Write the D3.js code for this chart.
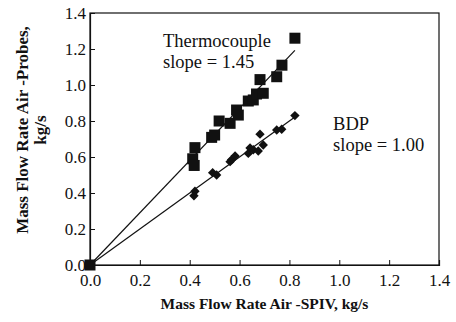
<!DOCTYPE html>
<html>
<head>
<meta charset="utf-8">
<script src="https://cdn.jsdelivr.net/npm/d3@7"></script>
<style>
  body { margin: 0; background: #fff; }
  svg text { font-family: "Liberation Serif", "Times New Roman", Times, "DejaVu Serif", serif; fill: #111; }
</style>
</head>
<body>
<div id="chart"></div>
<script>
// Thermocouple probe vs SPIV (kg/s)
const thermoX = [0, 0.412, 0.418, 0.421, 0.488, 0.500, 0.518, 0.562, 0.588, 0.595, 0.635, 0.655, 0.668, 0.682, 0.695, 0.749, 0.770, 0.822];
const thermoY = [0, 0.590, 0.553, 0.652, 0.709, 0.722, 0.800, 0.787, 0.861, 0.833, 0.911, 0.917, 0.950, 1.030, 0.954, 1.046, 1.110, 1.260];
// BDP probe vs SPIV (kg/s)
const bdpX = [0, 0.417, 0.421, 0.492, 0.508, 0.562, 0.568, 0.582, 0.635, 0.642, 0.655, 0.675, 0.682, 0.695, 0.749, 0.769, 0.822];
const bdpY = [0, 0.385, 0.410, 0.513, 0.500, 0.574, 0.585, 0.606, 0.620, 0.650, 0.640, 0.633, 0.727, 0.667, 0.750, 0.754, 0.830];
// fitted lines through origin
const fitX = [0, 0.822];
const thermoSlope = 1.45;
const bdpSlope = 1.00;
const ticks = [0, 0.2, 0.4, 0.6, 0.8, 1.0, 1.2, 1.4];

const serif = "'Liberation Serif', 'Times New Roman', Times, 'DejaVu Serif', serif";
const width = 456, height = 322;
const margin = { top: 13, right: 17, bottom: 57, left: 90 };

const svg = d3.select("#chart").append("svg")
  .attr("width", width)
  .attr("height", height)
  .attr("font-family", serif);

const x = d3.scaleLinear().domain([0, 1.4]).range([margin.left, width - margin.right]);
const y = d3.scaleLinear().domain([0, 1.4]).range([height - margin.bottom, margin.top]);

// frame
svg.append("rect")
  .attr("x", x(0)).attr("y", y(1.4))
  .attr("width", x(1.4) - x(0)).attr("height", y(0) - y(1.4))
  .attr("fill", "none").attr("stroke", "#111").attr("stroke-width", 1.2);

// axes, ticks point inwards
const xAxis = svg.append("g")
  .attr("transform", `translate(0,${y(0)})`)
  .call(d3.axisBottom(x).tickValues(ticks).tickSize(-5).tickPadding(9).tickFormat(d3.format(".1f")));
const yAxis = svg.append("g")
  .attr("transform", `translate(${x(0)},0)`)
  .call(d3.axisLeft(y).tickValues(ticks).tickSize(-5).tickPadding(4).tickFormat(d3.format(".1f")));

[xAxis, yAxis].forEach(a => {
  a.attr("font-family", serif).attr("font-size", 17);
  a.select(".domain").attr("stroke", "#111").attr("stroke-width", 1.2);
  a.selectAll(".tick line").attr("stroke", "#111");
  a.selectAll(".tick text").attr("fill", "#111");
});

// fit lines
const line = slope => d3.line().x(d => x(d)).y(d => y(d * slope));
svg.append("path").datum(fitX).attr("d", line(thermoSlope))
  .attr("fill", "none").attr("stroke", "#111").attr("stroke-width", 1.2);
svg.append("path").datum(fitX).attr("d", line(bdpSlope))
  .attr("fill", "none").attr("stroke", "#111").attr("stroke-width", 1.2);

// BDP diamonds
svg.append("g").selectAll("path")
  .data(bdpX.map((d, i) => [d, bdpY[i]]))
  .join("path")
  .attr("transform", d => `translate(${x(d[0])},${y(d[1])}) rotate(45)`)
  .attr("d", d3.symbol(d3.symbolSquare, 44))
  .attr("fill", "#111");

// Thermocouple squares
svg.append("g").selectAll("rect")
  .data(thermoX.map((d, i) => [d, thermoY[i]]))
  .join("rect")
  .attr("x", d => x(d[0]) - 5.5)
  .attr("y", d => y(d[1]) - 5.5)
  .attr("width", 11).attr("height", 11)
  .attr("fill", "#111");

// annotations
const note = (tx, ty, lines) => {
  const t = svg.append("text").attr("x", x(tx)).attr("y", y(ty)).attr("font-size", 18.5);
  lines.forEach((s, i) => t.append("tspan").attr("x", x(tx)).attr("dy", i ? 21 : 0).text(s));
};
note(0.293, 1.21, ["Thermocouple", "slope = 1.45"]);
note(0.975, 0.75, ["BDP", "slope = 1.00"]);

// axis titles
svg.append("text")
  .attr("x", (x(0) + x(1.4)) / 2).attr("y", 309)
  .attr("text-anchor", "middle")
  .attr("font-size", 15.5).attr("font-weight", "bold")
  .text("Mass Flow Rate Air -SPIV, kg/s");

const yt = svg.append("text")
  .attr("transform", `translate(28,${(y(0) + y(1.4)) / 2 - 9}) rotate(-90)`)
  .attr("text-anchor", "middle")
  .attr("font-size", 17).attr("font-weight", "bold");
yt.append("tspan").attr("x", 0).attr("y", 0).text("Mass Flow Rate Air -Probes,");
yt.append("tspan").attr("x", 0).attr("y", 18).text("kg/s");
</script>
</body>
</html>
